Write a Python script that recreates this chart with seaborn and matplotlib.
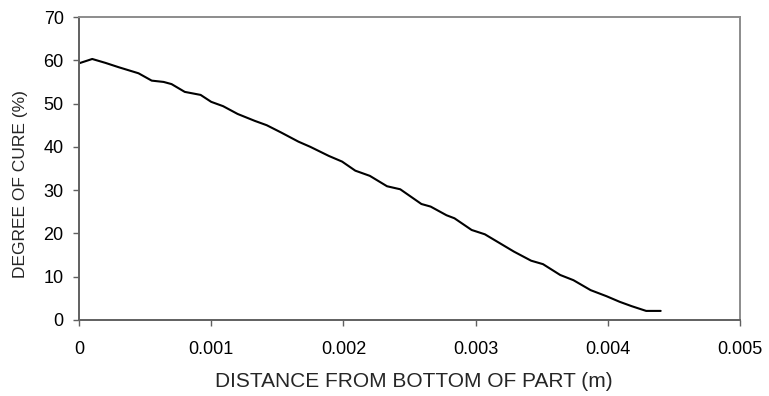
import matplotlib
matplotlib.use("Agg")
import matplotlib.pyplot as plt
import seaborn as sns
import pandas as pd

distance = [0, 0.0001, 0.0002, 0.0003, 0.00045, 0.00055, 0.00064, 0.0007, 0.0008,
            0.00092, 0.001, 0.00109, 0.0012, 0.00133, 0.00142, 0.00153, 0.00166,
            0.00175, 0.00189, 0.00199, 0.00209, 0.0022, 0.00233, 0.00243, 0.00259,
            0.00266, 0.00278, 0.00284, 0.00297, 0.00307, 0.00318, 0.00329, 0.00342,
            0.00351, 0.00364, 0.00374, 0.00387, 0.00399, 0.00409, 0.00418, 0.00429,
            0.0044]
cure = [59.3, 60.3, 59.4, 58.4, 57.0, 55.3, 55.0, 54.5, 52.7,
        52.0, 50.4, 49.4, 47.6, 46.0, 45.0, 43.3, 41.2,
        40.0, 37.9, 36.6, 34.5, 33.3, 30.9, 30.2, 26.8,
        26.2, 24.2, 23.5, 20.8, 19.8, 17.8, 15.8, 13.7,
        12.9, 10.4, 9.2, 6.9, 5.5, 4.2, 3.2, 2.1,
        2.1]
x_ticks = [0, 0.001, 0.002, 0.003, 0.004, 0.005]
x_tick_labels = ["0", "0.001", "0.002", "0.003", "0.004", "0.005"]
y_ticks = [0, 10, 20, 30, 40, 50, 60, 70]

df = pd.DataFrame({"distance": distance, "cure": cure})

sns.set_style("white")
plt.rcParams["font.family"] = ["Liberation Sans", "DejaVu Sans"]

fig = plt.figure(figsize=(7.69, 3.96), dpi=100)
ax = fig.add_axes([79 / 769, 1 - 320 / 396, (740 - 79) / 769, (320 - 17) / 396])

sns.lineplot(data=df, x="distance", y="cure", color="black", linewidth=1.5, ax=ax,
             sort=False)

ax.set_xlim(0, 0.005)
ax.set_ylim(0, 70)
ax.set_xticks(x_ticks)
ax.set_xticklabels(x_tick_labels)
ax.set_yticks(y_ticks)
ax.tick_params(axis="both", direction="out", length=4, width=1, labelsize=13,
               labelcolor="black", bottom=True, left=True, color="#606060")
ax.tick_params(axis="x", pad=11)
ax.tick_params(axis="y", pad=7)

for side in ["top", "right"]:
    ax.spines[side].set_color("#8c8c8c")
    ax.spines[side].set_linewidth(1.4)
for side in ["left", "bottom"]:
    ax.spines[side].set_color("#606060")
    ax.spines[side].set_linewidth(1.4)

ax.set_xlabel("DISTANCE FROM BOTTOM OF PART (m)", fontsize=15)
ax.xaxis.set_label_coords(0.506, -0.17)
ax.set_ylabel("DEGREE OF CURE (%)", fontsize=12.5,
              family=["Liberation Sans Narrow", "Liberation Sans", "DejaVu Sans"])
ax.yaxis.set_label_coords(-0.077, 0.449)

fig.savefig("out.png", dpi=100)
